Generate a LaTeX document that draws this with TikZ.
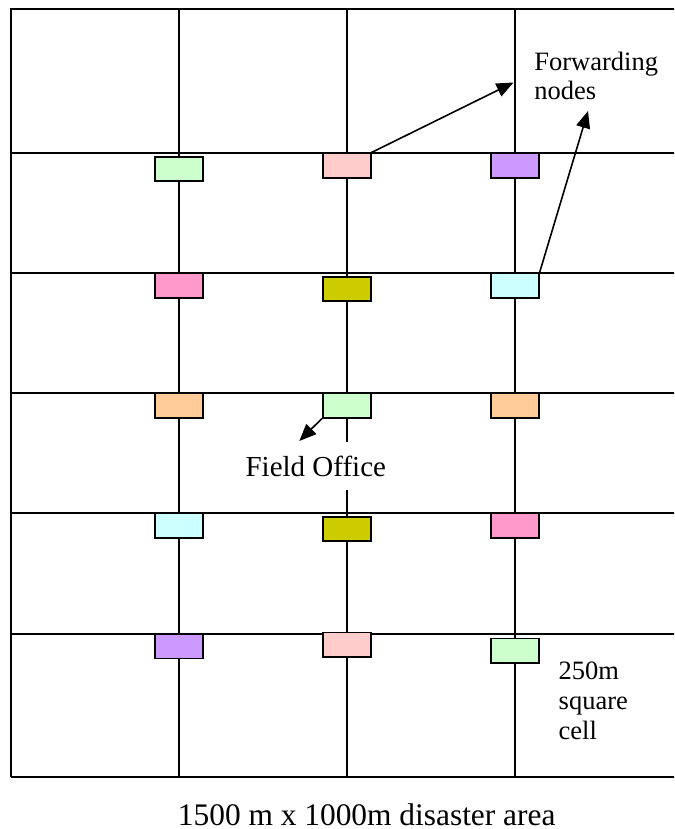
\documentclass[tikz,border=0pt]{standalone}
\usepackage{fontspec}
\setmainfont{Liberation Serif}
\usetikzlibrary{arrows.meta}
\definecolor{lgreen}{HTML}{CCFFCC}
\definecolor{lpink}{HTML}{FFCCCC}
\definecolor{lpurple}{HTML}{CC99FF}
\definecolor{hpink}{HTML}{FF99CC}
\definecolor{olive}{HTML}{CCCC00}
\definecolor{lcyan}{HTML}{CCFFFF}
\definecolor{lorange}{HTML}{FFCC99}
\begin{document}
\begin{tikzpicture}[x=0.5pt,y=-0.5pt,
  gridline/.style={line width=1pt},
  fwdbox/.style={draw, line width=0.8pt, inner sep=0pt, minimum width=24pt, minimum height=12.2pt},
  pointer/.style={line width=0.8pt, -{Triangle[length=8.5pt,width=7pt]}},
  smalllbl/.style={inner sep=0pt, align=left},
]
\useasboundingbox (0,0) rectangle (674,829);
\clip (0,0) rectangle (674,829);
% outer area and grid
\draw[gridline] (11,777) -- (11,9.3) -- (700,9.3);
\draw[gridline] (11,777) -- (700,777);
\foreach \yy in {153.3,273.3,393.3,513.3,634} \draw[gridline] (11,\yy) -- (700,\yy);
\draw[gridline] (178.7,9.3) -- (178.7,777);
\draw[gridline] (514.8,9.3) -- (514.8,777);
\draw[gridline] (346.7,9.3) -- (346.7,441.7);
\draw[gridline] (346.7,490) -- (346.7,777);
% forwarding nodes
\node[fwdbox, fill=lgreen]  (a1) at (178.7,168.9) {};
\node[fwdbox, fill=lpink]   (b1) at (346.7,165.5) {};
\node[fwdbox, fill=lpurple] (c1) at (514.8,165.5) {};
\node[fwdbox, fill=hpink]   (a2) at (178.7,285.5) {};
\node[fwdbox, fill=olive]   (b2) at (346.7,288.9) {};
\node[fwdbox, fill=lcyan]   (c2) at (514.8,285.5) {};
\node[fwdbox, fill=lorange] (a3) at (178.7,405.5) {};
\node[fwdbox, fill=lgreen]  (b3) at (346.7,405.5) {};
\node[fwdbox, fill=lorange] (c3) at (514.8,405.5) {};
\node[fwdbox, fill=lcyan]   (a4) at (178.7,525.5) {};
\node[fwdbox, fill=olive]   (b4) at (346.7,528.9) {};
\node[fwdbox, fill=hpink]   (c4) at (514.8,525.5) {};
\node[fwdbox, fill=lpurple] (a5) at (178.7,646.2) {};
\node[fwdbox, fill=lpink]   (b5) at (346.7,644.5) {};
\node[fwdbox, fill=lgreen]  (c5) at (514.8,650.6) {};
% labels
\node[smalllbl, font=\fontsize{13.25}{14.15}\selectfont, anchor=base west] (fwdlbl) at (534,99.3) {Forwarding\\nodes};
\node[smalllbl, font=\fontsize{13.25}{15.1}\selectfont, anchor=base west] (celllbl) at (558.3,739.5) {250m\\square\\cell};
\node[font=\fontsize{14.5}{16}\selectfont, inner sep=0pt, anchor=base] (fo) at (315.8,476.7) {Field Office};
\node[font=\fontsize{15.7}{17}\selectfont, inner sep=0pt, anchor=base] (area) at (366.7,825) {1500 m x 1000m disaster area};
% arrows
\coordinate (tip1) at (513.5,82.5);
\coordinate (tip2) at (588,111);
\coordinate (tip3) at (299.3,441);
\draw[pointer] (b1.north east) -- (tip1);
\draw[pointer] (c2.north east) -- (tip2);
\draw[pointer] (b3.south west) -- (tip3);
\end{tikzpicture}
\end{document}
